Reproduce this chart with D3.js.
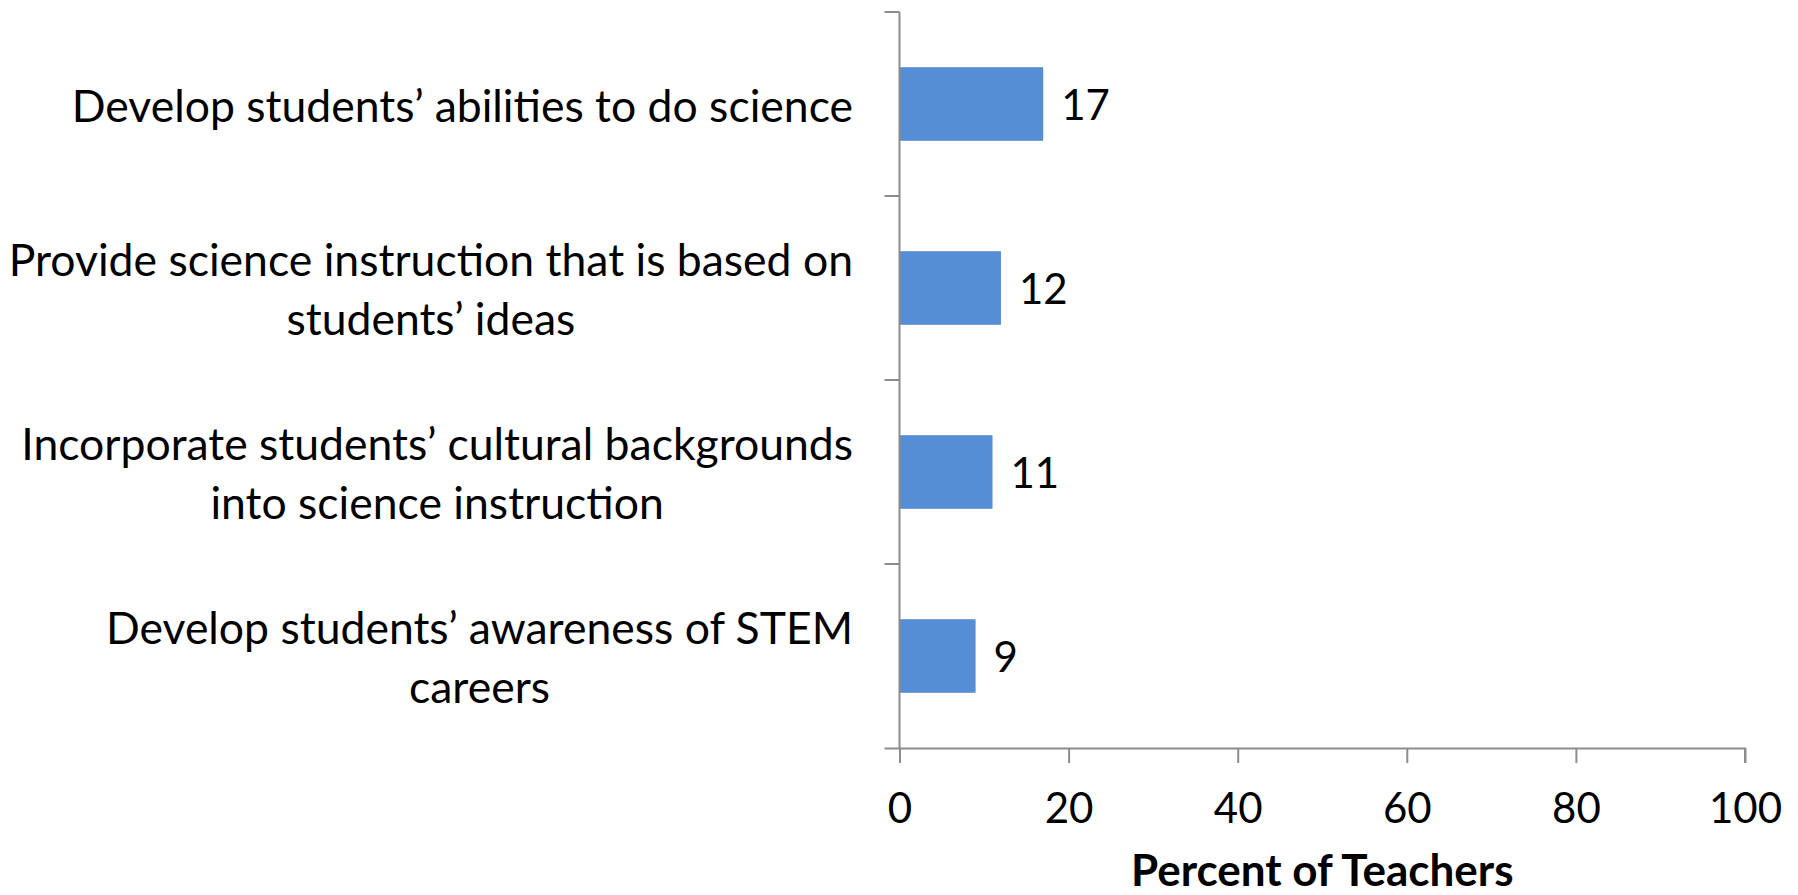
<!DOCTYPE html>
<html>
<head>
<meta charset="utf-8">
<script src="https://cdn.jsdelivr.net/npm/d3@7"></script>
<style>
  html, body { margin: 0; padding: 0; background: #ffffff; }
  svg { display: block; }
  text { font-family: Lato, "Open Sans", sans-serif; fill: #000; }
</style>
</head>
<body>
<svg id="chart" width="1798" height="895"></svg>
<script>
// ---- data ----
const categories = [
  "Develop students’ abilities to do science",
  "Provide science instruction that is based on\nstudents’ ideas",
  "Incorporate students’ cultural backgrounds\ninto science instruction",
  "Develop students’ awareness of STEM\ncareers"
];
const values = [17, 12, 11, 9];
const xTicks = [0, 20, 40, 60, 80, 100];
const xTitle = "Percent of Teachers";

// ---- layout ----
const plotLeft = 899.5, plotRight = 1745, plotTop = 12, plotBottom = 748;
const axisColor = "#8c8c8c";
const barColor = "#558ed5";
const labelFont = 44.5;
const numFont = 42;

const svg = d3.select("#chart");

const x = d3.scaleLinear().domain([0, 100]).range([plotLeft, plotRight]);
const y = d3.scaleBand().domain(categories).range([plotTop, plotBottom])
  .paddingInner(0.6).paddingOuter(0.3);
const step = y.step();

// bars
svg.append("g").selectAll("rect").data(values).join("rect")
  .attr("x", x(0))
  .attr("y", (d, i) => y(categories[i]))
  .attr("width", d => x(d) - x(0))
  .attr("height", y.bandwidth())
  .attr("fill", barColor);

// x axis
const xAxis = d3.axisBottom(x).tickValues(xTicks).tickSize(15).tickPadding(30).tickFormat(d3.format("d"));
const gx = svg.append("g").attr("transform", `translate(0,${plotBottom})`).call(xAxis);
gx.select(".domain").attr("d", `M${plotLeft - 15},0.5H${plotRight}V15`).attr("stroke", axisColor).attr("stroke-width", 2);
gx.selectAll(".tick line").attr("stroke", axisColor).attr("stroke-width", 2);
gx.selectAll(".tick text").attr("font-size", numFont).attr("font-family", "Lato, sans-serif").attr("fill", "#000");

// y axis (category boundary ticks)
const gy = svg.append("g");
gy.append("line").attr("x1", plotLeft).attr("x2", plotLeft).attr("y1", plotTop).attr("y2", plotBottom)
  .attr("stroke", axisColor).attr("stroke-width", 2);
const boundaries = d3.range(categories.length).map(i => y(categories[i]) - step * y.paddingInner() / 2);
gy.selectAll("line.tk").data(boundaries).join("line").attr("class", "tk")
  .attr("x1", plotLeft - 15).attr("x2", plotLeft).attr("y1", d => d).attr("y2", d => d)
  .attr("stroke", axisColor).attr("stroke-width", 2);

// category labels (lines centered within a right-aligned block)
const labelRight = 853;
const lineGap = 59;
categories.forEach((c, i) => {
  const lines = c.split("\n");
  const cy = y(c) + y.bandwidth() / 2;
  const g = svg.append("g");
  const texts = lines.map((ln, j) => g.append("text")
    .attr("font-size", labelFont)
    .attr("text-anchor", "middle")
    .attr("dominant-baseline", "central")
    .attr("y", cy + (j - (lines.length - 1) / 2) * lineGap)
    .text(ln));
  const maxW = d3.max(texts, t => t.node().getComputedTextLength());
  texts.forEach(t => t.attr("x", labelRight - maxW / 2));
});

// value labels
svg.append("g").selectAll("text").data(values).join("text")
  .attr("x", d => x(d) + 18)
  .attr("y", (d, i) => y(categories[i]) + y.bandwidth() / 2)
  .attr("dominant-baseline", "central")
  .attr("font-size", numFont)
  .text(d => d);

// axis title
svg.append("text")
  .attr("x", (plotLeft + plotRight) / 2)
  .attr("y", 886)
  .attr("text-anchor", "middle")
  .attr("font-size", 44)
  .attr("font-weight", "bold")
  .text(xTitle);
</script>
</body>
</html>
